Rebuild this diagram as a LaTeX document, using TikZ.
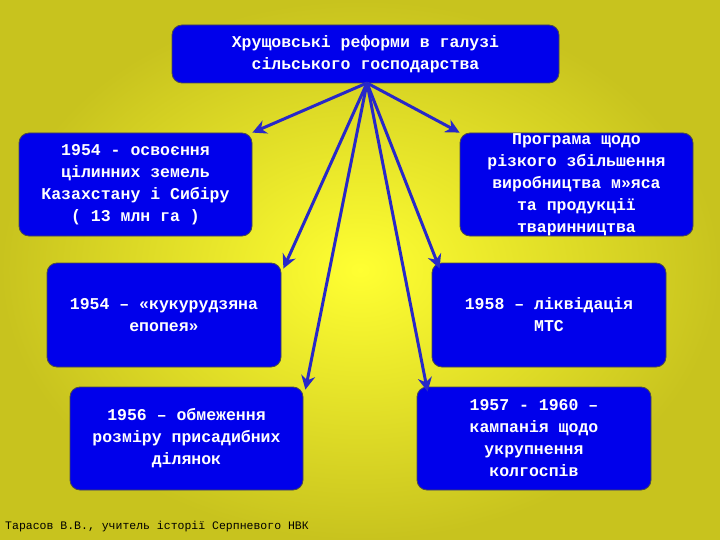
\documentclass[tikz,border=0pt]{standalone}
\usepackage{fontspec}
\setmonofont{Liberation Mono}
\usetikzlibrary{arrows.meta}
\definecolor{bx}{RGB}{0,0,235}
\definecolor{ar}{RGB}{40,40,200}
\definecolor{yin}{RGB}{255,255,50}
\definecolor{yout}{RGB}{200,195,30}
\tikzset{
 box/.style={draw=black!70,line width=0.8pt,fill=bx,rounded corners=10pt,text=white,font=\ttfamily\bfseries\fontsize{16.5}{22}\selectfont,align=center,inner sep=0pt},
 arr/.style={draw=ar,line width=3pt,-{Stealth[length=14pt,width=14pt]}}
}
\begin{document}
\begin{tikzpicture}[x=1pt,y=-1pt]
\useasboundingbox (0,0) rectangle (720,540);
\shade[inner color=yin,outer color=yout] (0,0) rectangle (720,540);
\node[box,minimum width=387pt,minimum height=58pt] (top) at (365.5,54) {Хрущовські реформи в галузі\\сільського господарства};
\node[box,minimum width=233pt,minimum height=103pt] (b1) at (135.5,184.5) {1954 - освоєння\\цілинних земель\\Казахстану і Сибіру\\( 13 млн га )};
\node[box,minimum width=233pt,minimum height=103pt] (b2) at (576.5,184.5) {Програма щодо\\різкого збільшення\\виробництва м»яса\\та продукції\\тваринництва};
\node[box,minimum width=234pt,minimum height=104pt] (b3) at (164,315) {1954 – «кукурудзяна\\епопея»};
\node[box,minimum width=234pt,minimum height=104pt] (b4) at (549,315) {1958 – ліквідація\\МТС};
\node[box,minimum width=233pt,minimum height=103pt] (b5) at (186.5,438.5) {1956 – обмеження\\розміру присадибних\\ділянок};
\node[box,minimum width=234pt,minimum height=103pt] (b6) at (534,438.5) {1957 - 1960 –\\кампанія щодо\\укрупнення\\колгоспів};
\coordinate (o) at (367,83);
\draw[arr] (o) -- (b1.north east);
\draw[arr] (o) -- (b2.north west);
\draw[arr] (o) -- ([xshift=2pt,yshift=-6pt]b3.north east);
\draw[arr] (o) -- ([xshift=8pt,yshift=-6pt]b4.north west);
\draw[arr] (o) -- ([xshift=2pt,yshift=-3pt]b5.north east);
\draw[arr] (o) -- ([xshift=11pt,yshift=-5pt]b6.north west);
\node[anchor=west,font=\ttfamily\fontsize{11.5}{13}\selectfont,inner sep=0pt] (f) at (5,527) {Тарасов В.В., учитель історії Серпневого НВК};
\end{tikzpicture}
\end{document}
